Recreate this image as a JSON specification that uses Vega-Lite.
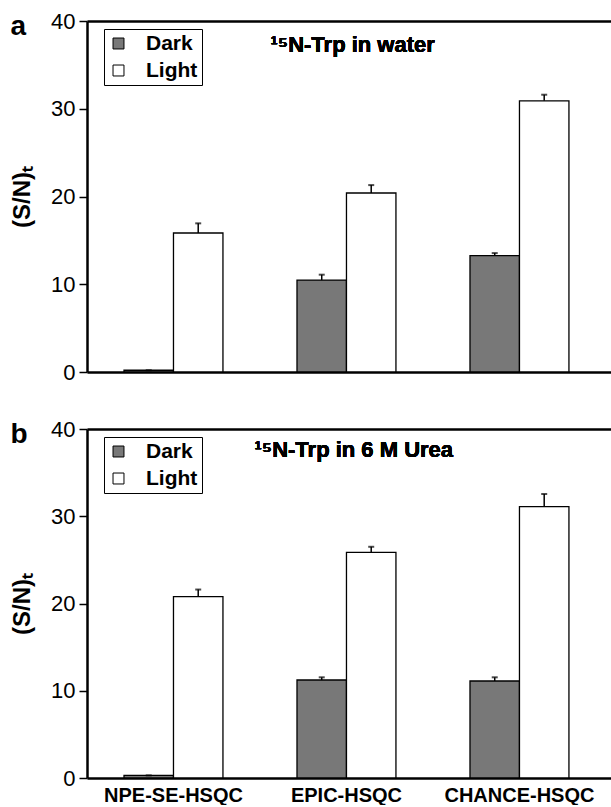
{
  "$schema": "https://vega.github.io/schema/vega-lite/v6.json",
  "background": "white",
  "padding": {"left": 10, "top": 10, "right": 0, "bottom": 0},
  "config": {
    "view": {"stroke": null},
    "font": "Liberation Sans",
    "axis": {"grid": false, "domainColor": "black", "tickColor": "black", "labelColor": "black", "titleColor": "black"}
  },
  "datasets": {
    "water": [
      {"method": "NPE-SE-HSQC", "condition": "Dark", "sn": 0.2, "upper": 0.2},
      {"method": "NPE-SE-HSQC", "condition": "Light", "sn": 15.84, "upper": 16.94},
      {"method": "EPIC-HSQC", "condition": "Dark", "sn": 10.48, "upper": 11.09},
      {"method": "EPIC-HSQC", "condition": "Light", "sn": 20.4, "upper": 21.3},
      {"method": "CHANCE-HSQC", "condition": "Dark", "sn": 13.26, "upper": 13.55},
      {"method": "CHANCE-HSQC", "condition": "Light", "sn": 30.9, "upper": 31.6}
    ],
    "urea": [
      {"method": "NPE-SE-HSQC", "condition": "Dark", "sn": 0.3, "upper": 0.3},
      {"method": "NPE-SE-HSQC", "condition": "Light", "sn": 20.78, "upper": 21.6},
      {"method": "EPIC-HSQC", "condition": "Dark", "sn": 11.23, "upper": 11.54},
      {"method": "EPIC-HSQC", "condition": "Light", "sn": 25.87, "upper": 26.5},
      {"method": "CHANCE-HSQC", "condition": "Dark", "sn": 11.12, "upper": 11.54},
      {"method": "CHANCE-HSQC", "condition": "Light", "sn": 31.1, "upper": 32.55}
    ]
  },
  "spacing": 35,
  "resolve": {"legend": {"fill": "independent"}, "scale": {"fill": "independent"}},
  "vconcat": [
    {
      "width": 524,
      "height": 351,
      "data": {"name": "water"},
      "resolve": {"axis": {"x": "independent"}},
      "layer": [
        {
          "mark": {"type": "bar", "stroke": "black", "strokeWidth": 1.3},
          "encoding": {
            "x": {"field": "method", "type": "nominal", "sort": ["NPE-SE-HSQC", "EPIC-HSQC", "CHANCE-HSQC"],
                  "scale": {"paddingInner": 0.428, "paddingOuter": 0.2285, "align": 0.468},
                  "axis": {"title": null, "labels": false, "ticks": false, "domainWidth": 2.5}},
            "xOffset": {"field": "condition", "type": "nominal", "sort": ["Dark", "Light"], "scale": {"paddingInner": 0, "paddingOuter": 0}},
            "y": {"field": "sn", "type": "quantitative", "scale": {"domain": [0, 40]},
                  "axis": {"values": [0, 10, 20, 30, 40], "tickSize": 8, "tickWidth": 1.5, "domainWidth": 2.5, "labelFontSize": 22, "labelPadding": 4,
                           "title": "(S/N)ₜ", "titleFontSize": 24, "titleFontWeight": "bold", "titlePadding": 16}},
            "fill": {"field": "condition", "type": "nominal", "sort": ["Dark", "Light"],
                     "scale": {"domain": ["Dark", "Light"], "range": ["#787878", "#ffffff"]},
                     "legend": {"title": null, "orient": "none", "legendX": 17, "legendY": 8, "symbolType": "square", "symbolSize": 120,
                                "symbolStrokeColor": "black", "symbolStrokeWidth": 1, "labelFontSize": 21, "labelFontWeight": "bold",
                                "labelOffset": 17, "strokeColor": "black", "padding": 4, "rowPadding": 5}}
          }
        },
        {
          "mark": {"type": "rule", "color": "black", "strokeWidth": 1.5},
          "encoding": {
            "x": {"field": "method", "type": "nominal", "sort": ["NPE-SE-HSQC", "EPIC-HSQC", "CHANCE-HSQC"], "axis": null},
            "xOffset": {"field": "condition", "type": "nominal", "sort": ["Dark", "Light"]},
            "y": {"field": "sn", "type": "quantitative"},
            "y2": {"field": "upper"}
          }
        },
        {
          "mark": {"type": "tick", "color": "black", "size": 6, "thickness": 2},
          "encoding": {
            "x": {"field": "method", "type": "nominal", "sort": ["NPE-SE-HSQC", "EPIC-HSQC", "CHANCE-HSQC"], "axis": null},
            "xOffset": {"field": "condition", "type": "nominal", "sort": ["Dark", "Light"]},
            "y": {"field": "upper", "type": "quantitative"}
          }
        },
        {
          "mark": {"type": "text", "fontSize": 22, "fontWeight": "bold", "color": "black", "align": "left", "dx": -76},
          "encoding": {
            "x": {"datum": "EPIC-HSQC", "type": "nominal",
                  "axis": {"orient": "top", "title": "a", "labels": false, "ticks": false, "domain": true, "domainWidth": 2.5,
                           "titleX": -77, "titleY": 13, "titleAngle": 0, "titleAlign": "left", "titleAnchor": "start", "titleBaseline": "alphabetic",
                           "titleFontSize": 28, "titleFontWeight": "bold"}},
            "y": {"datum": 37.3},
            "text": {"value": "¹⁵N-Trp in water"}
          }
        }
      ]
    },
    {
      "width": 524,
      "height": 349,
      "data": {"name": "urea"},
      "resolve": {"axis": {"x": "independent"}},
      "layer": [
        {
          "mark": {"type": "bar", "stroke": "black", "strokeWidth": 1.3},
          "encoding": {
            "x": {"field": "method", "type": "nominal", "sort": ["NPE-SE-HSQC", "EPIC-HSQC", "CHANCE-HSQC"],
                  "scale": {"paddingInner": 0.428, "paddingOuter": 0.2285, "align": 0.468},
                  "axis": {"title": null, "labelAngle": 0, "ticks": false, "domainWidth": 2.5, "labelFontSize": 20, "labelFontWeight": "bold", "labelPadding": 7}},
            "xOffset": {"field": "condition", "type": "nominal", "sort": ["Dark", "Light"], "scale": {"paddingInner": 0, "paddingOuter": 0}},
            "y": {"field": "sn", "type": "quantitative", "scale": {"domain": [0, 40]},
                  "axis": {"values": [0, 10, 20, 30, 40], "tickSize": 8, "tickWidth": 1.5, "domainWidth": 2.5, "labelFontSize": 22, "labelPadding": 4,
                           "title": "(S/N)ₜ", "titleFontSize": 24, "titleFontWeight": "bold", "titlePadding": 16}},
            "fill": {"field": "condition", "type": "nominal", "sort": ["Dark", "Light"],
                     "scale": {"domain": ["Dark", "Light"], "range": ["#787878", "#ffffff"]},
                     "legend": {"title": null, "orient": "none", "legendX": 17, "legendY": 8, "symbolType": "square", "symbolSize": 120,
                                "symbolStrokeColor": "black", "symbolStrokeWidth": 1, "labelFontSize": 21, "labelFontWeight": "bold",
                                "labelOffset": 17, "strokeColor": "black", "padding": 4, "rowPadding": 5}}
          }
        },
        {
          "mark": {"type": "rule", "color": "black", "strokeWidth": 1.5},
          "encoding": {
            "x": {"field": "method", "type": "nominal", "sort": ["NPE-SE-HSQC", "EPIC-HSQC", "CHANCE-HSQC"], "axis": null},
            "xOffset": {"field": "condition", "type": "nominal", "sort": ["Dark", "Light"]},
            "y": {"field": "sn", "type": "quantitative"},
            "y2": {"field": "upper"}
          }
        },
        {
          "mark": {"type": "tick", "color": "black", "size": 6, "thickness": 2},
          "encoding": {
            "x": {"field": "method", "type": "nominal", "sort": ["NPE-SE-HSQC", "EPIC-HSQC", "CHANCE-HSQC"], "axis": null},
            "xOffset": {"field": "condition", "type": "nominal", "sort": ["Dark", "Light"]},
            "y": {"field": "upper", "type": "quantitative"}
          }
        },
        {
          "mark": {"type": "text", "fontSize": 22, "fontWeight": "bold", "color": "black", "align": "left", "dx": -92},
          "encoding": {
            "x": {"datum": "EPIC-HSQC", "type": "nominal",
                  "axis": {"orient": "top", "title": "b", "labels": false, "ticks": false, "domain": true, "domainWidth": 2.5,
                           "titleX": -77, "titleY": 13, "titleAngle": 0, "titleAlign": "left", "titleAnchor": "start", "titleBaseline": "alphabetic",
                           "titleFontSize": 28, "titleFontWeight": "bold"}},
            "y": {"datum": 37.6},
            "text": {"value": "¹⁵N-Trp in 6 M Urea"}
          }
        }
      ]
    }
  ]
}
